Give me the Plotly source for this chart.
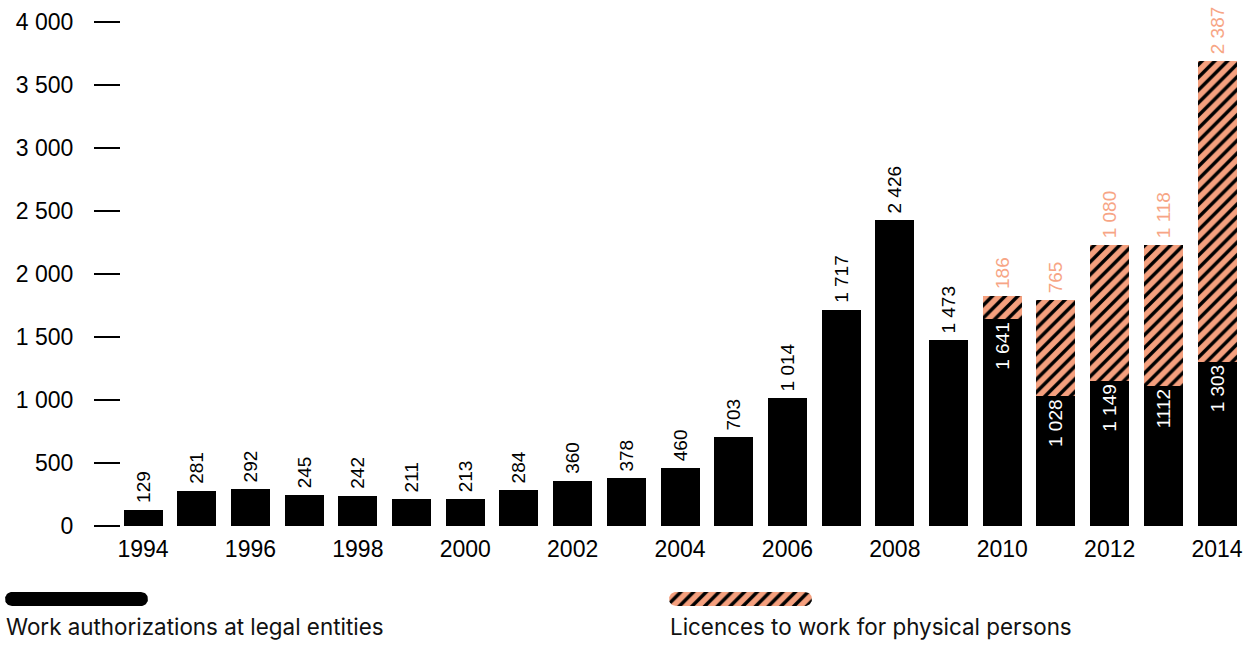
import numpy as np
import plotly.graph_objects as go

# ---- data -------------------------------------------------------------
years = list(range(1994, 2015))
legal_entities = [129, 281, 292, 245, 242, 211, 213, 284, 360, 378, 460,
                  703, 1014, 1717, 2426, 1473, 1641, 1028, 1149, 1112, 1303]
legal_labels = ["129", "281", "292", "245", "242", "211", "213", "284", "360",
                "378", "460", "703", "1 014", "1 717", "2 426", "1 473",
                "1 641", "1 028", "1 149", "1112", "1 303"]
physical_persons = [None] * 16 + [186, 765, 1080, 1118, 2387]
physical_labels = [""] * 16 + ["186", "765", "1 080", "1 118", "2 387"]
year_ticks = list(range(1994, 2015, 2))
value_ticks = [0, 500, 1000, 1500, 2000, 2500, 3000, 3500, 4000]

series_names = ["Work authorizations at legal entities",
                "Licences to work for physical persons"]

# ---- styling ----------------------------------------------------------
W, H = 1255, 653
BLACK = "#000000"
SALMON = "#F5A07E"
SALMON_TEXT = "#F7A585"
NUM_FONT = "Liberation Sans, Arial, sans-serif"
TEXT_FONT = "Inter, Open Sans, sans-serif"
GAP = "\u2009"  # a little air between a bar end and its outside label
hatch = dict(shape="/", fgcolor=BLACK, bgcolor=SALMON, size=9,
             solidity=0.38, fillmode="replace")

# label placement: outside above bars that carry no licences, inside otherwise
legal_pos = ["outside" if p is None else "inside" for p in physical_persons]
legal_text = [GAP + t if pos == "outside" else t
              for t, pos in zip(legal_labels, legal_pos)]
physical_text = [GAP + t if t else t for t in physical_labels]

fig = go.Figure()

fig.add_trace(go.Bar(
    x=years, y=legal_entities, name=series_names[0],
    marker=dict(color=BLACK, line=dict(width=0)),
    text=legal_text, textposition=legal_pos, textangle=-90,
    insidetextanchor="end", constraintext="none", cliponaxis=False,
    insidetextfont=dict(family=NUM_FONT, size=19, color="white"),
    outsidetextfont=dict(family=NUM_FONT, size=19, color=BLACK),
    hoverinfo="x+y", showlegend=False,
))

fig.add_trace(go.Bar(
    x=years, y=physical_persons, name=series_names[1],
    marker=dict(color=SALMON, line=dict(width=0), pattern=hatch),
    text=physical_text, textposition="outside", textangle=-90,
    constraintext="none", cliponaxis=False,
    outsidetextfont=dict(family=NUM_FONT, size=19, color=SALMON_TEXT),
    hoverinfo="x+y", showlegend=False,
))

# ---- key below the chart (rounded swatches drawn on a pixel-scaled overlay)
def stadium(x0, x1, yc, h, n=24):
    r = h / 2
    t = np.linspace(-np.pi / 2, np.pi / 2, n)
    right_x = x1 - r + r * np.cos(t)
    right_y = yc + r * np.sin(t)
    left_x = x0 + r - r * np.cos(t)
    left_y = yc - r * np.sin(t)
    xs = np.concatenate([right_x, left_x, [right_x[0]]])
    ys = np.concatenate([right_y, left_y, [right_y[0]]])
    return xs, ys

key_y, key_h = 599, 14
key_boxes = [(5, 148), (669, 812)]

sx, sy = stadium(*key_boxes[0], key_y, key_h)
fig.add_trace(go.Scatter(
    x=sx, y=sy, xaxis="x2", yaxis="y2", mode="lines", fill="toself",
    fillcolor=BLACK, line=dict(width=0), hoverinfo="skip", showlegend=False,
))
sx, sy = stadium(*key_boxes[1], key_y, key_h)
fig.add_trace(go.Scatter(
    x=sx, y=sy, xaxis="x2", yaxis="y2", mode="lines", fill="toself",
    fillcolor=SALMON, fillpattern=hatch, line=dict(width=0),
    hoverinfo="skip", showlegend=False,
))

for (x0, _), label in zip(key_boxes, series_names):
    fig.add_annotation(
        x=x0 - 1, y=626, xref="x2", yref="y2", text=label, showarrow=False,
        xanchor="left", yanchor="middle",
        font=dict(family=TEXT_FONT, size=22.4, color="#111111"),
    )

# ---- layout -----------------------------------------------------------
fig.update_layout(
    width=W, height=H,
    margin=dict(l=0, r=0, t=0, b=0, autoexpand=False),
    paper_bgcolor="white", plot_bgcolor="rgba(0,0,0,0)",
    barmode="stack", bargap=0.274,
    separators=". ",
    xaxis=dict(
        domain=[121 / W, 1245 / W], range=[1993.59, 2014.52],
        tickvals=year_ticks, ticks="", showline=False, showgrid=False,
        zeroline=False, ticklabelstandoff=7, automargin=False,
        tickfont=dict(family=NUM_FONT, size=23, color=BLACK),
    ),
    yaxis=dict(
        domain=[(H - 526) / H, (H - 22) / H], range=[0, 4000],
        tickvals=value_ticks, tickformat=",d",
        ticks="outside", ticklen=26, tickwidth=2, tickcolor=BLACK,
        ticklabelstandoff=16, automargin=False,
        showline=False, showgrid=False, zeroline=False,
        tickfont=dict(family=NUM_FONT, size=23, color=BLACK),
    ),
    xaxis2=dict(domain=[0, 1], range=[0, W], visible=False, anchor="y2",
                fixedrange=True),
    yaxis2=dict(domain=[0, 1], range=[H, 0], visible=False, anchor="x2",
                fixedrange=True),
)

fig.write_html("out.html")
